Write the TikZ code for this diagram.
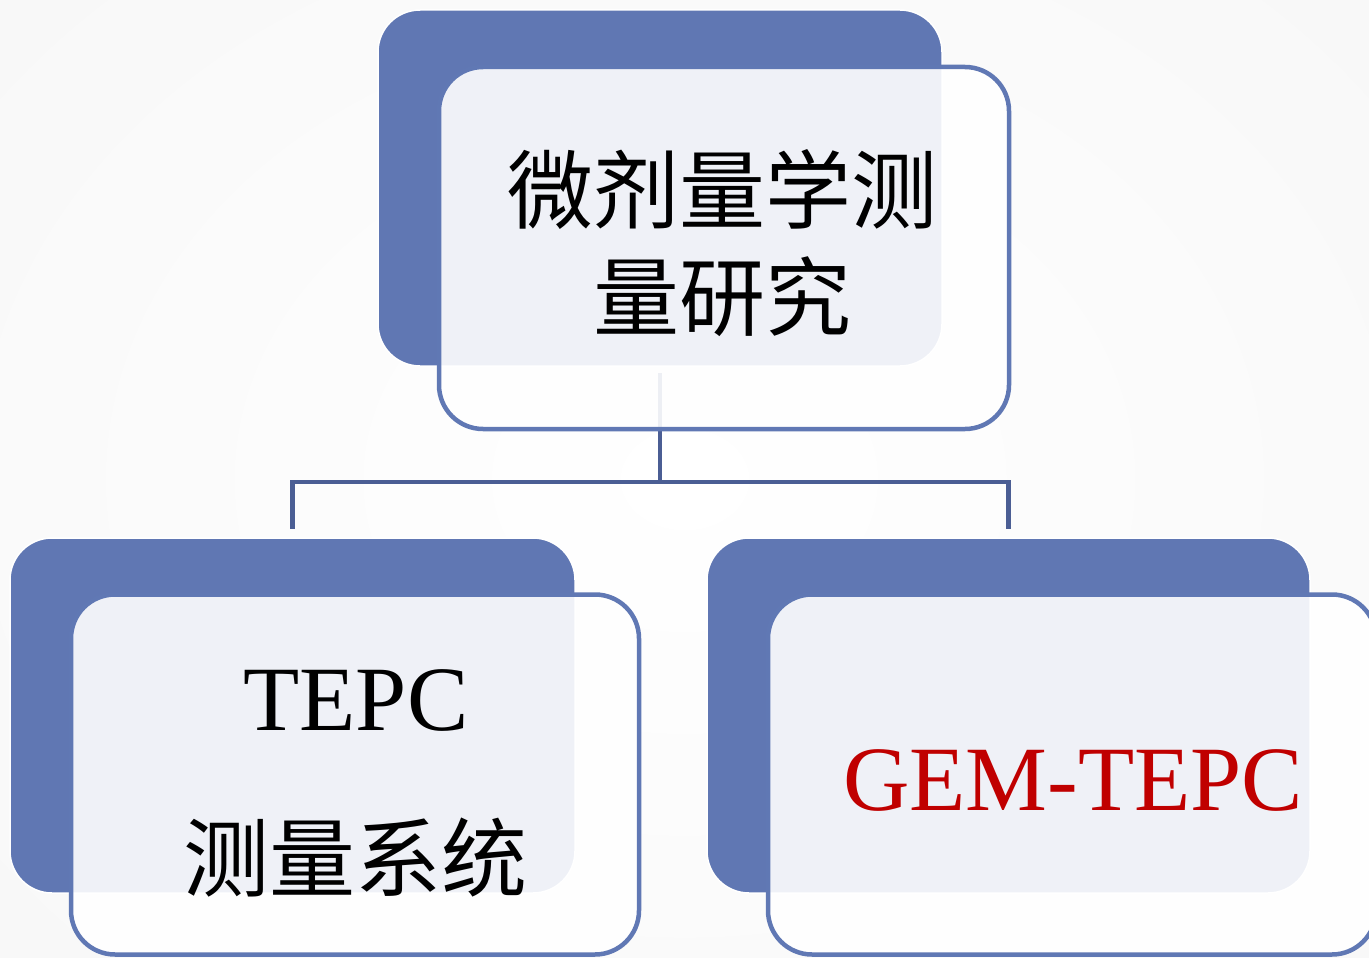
\documentclass[tikz,border=0pt]{standalone}
\usepackage{fontspec}
\setmainfont{Liberation Serif}
\newfontfamily\cjk{Noto Sans CJK SC}
\definecolor{backblue}{HTML}{6077B3}
\definecolor{framblue}{HTML}{6078B4}
\definecolor{connblue}{HTML}{4B5E94}
\definecolor{gemred}{HTML}{C00000}
\tikzset{
  backbox/.style={draw=white, line width=1.5pt, fill=backblue, rounded corners=42pt, inner sep=0pt},
  frontbox/.style={draw=framblue, line width=4.5pt, fill=white, fill opacity=0.9, draw opacity=1, rounded corners=44pt, inner sep=0pt},
  conn/.style={draw=connblue, line width=4.5pt},
  cjktext/.style={font=\cjk\fontsize{86}{107}\selectfont, text=black, inner sep=0pt, align=center},
  lattext/.style={font=\fontsize{92}{110}\selectfont, inner sep=0pt}
}
\begin{document}
\begin{tikzpicture}[x=1pt,y=-1pt]
\useasboundingbox (0,0) rectangle (1369,958);
\fill[inner color=white, outer color=gray!6] (-300,-300) rectangle (1669,1258);
% back boxes
\node[backbox, minimum width=564pt, minimum height=356pt] (topback) at (660,188) {};
\node[backbox, minimum width=565pt, minimum height=355pt] (leftback) at (292.5,715.5) {};
\node[backbox, minimum width=603pt, minimum height=355pt] (rightback) at (1008.5,715.5) {};
% connectors
\coordinate (mid) at (660,482);
\draw[conn] ([yshift=-6pt]topback.south) -- (mid) -| ([yshift=8pt]leftback.north);
\draw[conn] (mid) -| ([yshift=8pt]rightback.north);
% front boxes
\node[frontbox, minimum width=570pt, minimum height=362pt] (topfront) at (724,248) {};
\node[frontbox, minimum width=568pt, minimum height=360pt] (leftfront) at (355,774.5) {};
\node[frontbox, minimum width=608pt, minimum height=360pt] (rightfront) at (1072,774.5) {};
% texts
\node[cjktext] (toptext) at (722,243) {微剂量学测\\量研究};
\node[lattext, anchor=base] (tepc) at (356,730) {TEPC};
\node[cjktext] (tepcsys) at (355,858) {测量系统};
\node[lattext, anchor=base, text=gemred] (gem) at (1073,810) {GEM-TEPC};
\end{tikzpicture}
\end{document}
